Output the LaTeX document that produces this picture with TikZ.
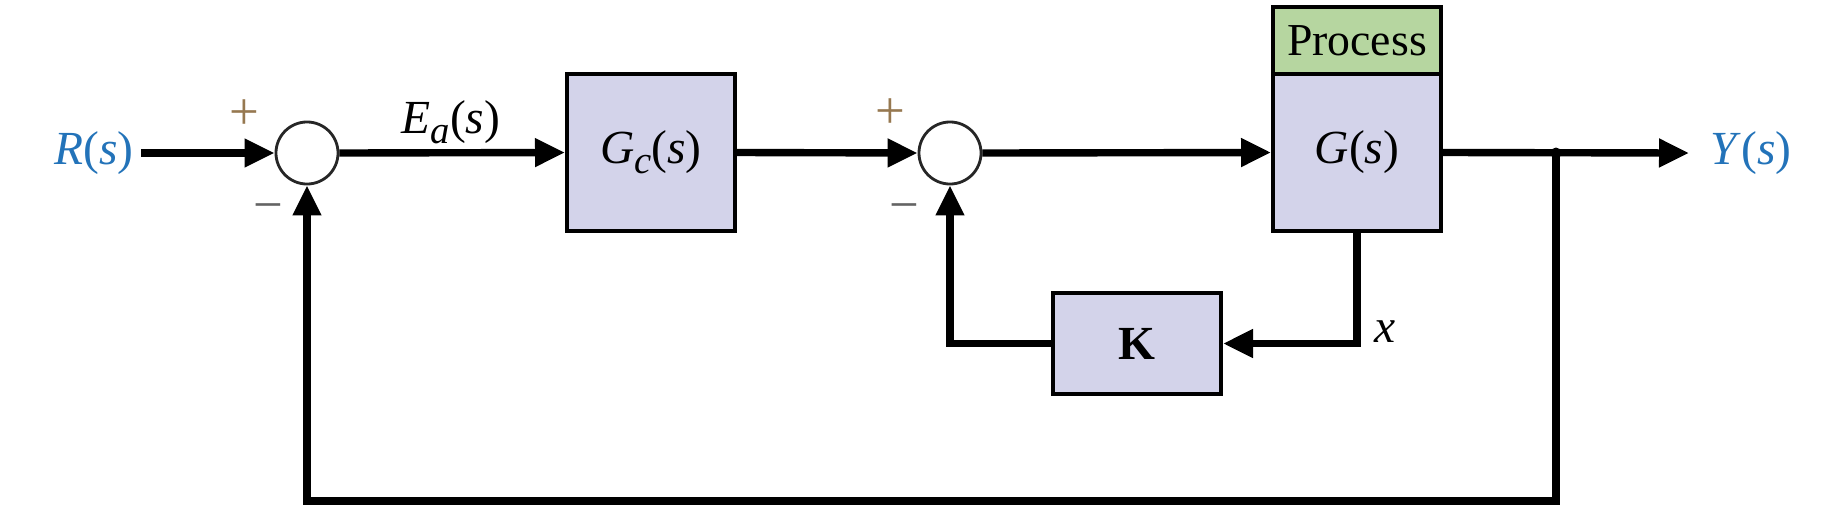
\documentclass[tikz,border=0pt]{standalone}
\usepackage{fontspec}
\setmainfont{Liberation Serif}
\usetikzlibrary{arrows.meta}
\definecolor{boxfill}{RGB}{211,211,234}
\definecolor{procfill}{RGB}{182,214,160}
\definecolor{sigblue}{RGB}{35,115,185}
\definecolor{plusc}{RGB}{150,120,80}
\definecolor{minusc}{RGB}{100,100,100}
\newcommand{\mysub}[1]{\raisebox{-0.45ex}{\fontsize{11}{12}\selectfont\textit{#1}}}
\begin{document}
\begin{tikzpicture}[x=0.01cm,y=-0.01cm,
  font=\fontsize{13.5}{16}\selectfont,
  blk/.style={draw=black, line width=1.1pt, fill=boxfill, minimum width=1.68cm, inner sep=0pt},
  sumc/.style={circle, draw=black!85, line width=0.8pt, minimum size=0.62cm, inner sep=0pt, fill=white},
  sig/.style={line width=2.1pt, -{Triangle[length=0.3cm,width=0.27cm]}},
  sgn/.style={font=\fontsize{15}{17}\selectfont, inner sep=0pt}]
\useasboundingbox (0,0) rectangle (1837,530);
% nodes
\node[text=sigblue, inner sep=0.1cm] (R) at (94,153) {\textit{R}(\textit{s})};
\node[sumc] (s1) at (307,153) {};
\node[blk, minimum height=1.57cm] (Gc) at (651,152.5) {\textit{G}\mysub{c}(\textit{s})};
\node[sumc] (s2) at (950,153) {};
\node[blk, minimum height=1.57cm] (G) at (1357,152.5) {\textit{G}(\textit{s})};
\node[blk, fill=procfill, minimum height=0.67cm, font=\fontsize{13}{15}\selectfont] (P) at (1357,40.5) {Process};
\node[text=sigblue, inner sep=0.1cm] (Y) at (1751,153) {\textit{Y}(\textit{s})};
\node[blk, minimum height=1.01cm, font=\bfseries\fontsize{13.5}{16}\selectfont] (K) at (1137,343.5) {K};
\node (Ea) at (451,122) {\textit{E}\mysub{a}(\textit{s})};
\node (xl) at (1385,332) {\textit{x}};
\node[sgn, text=plusc] (p1) at (244,115) {+};
\node[sgn, text=minusc] (m1) at (268,213) {−};
\node[sgn, text=plusc] (p2) at (890,114) {+};
\node[sgn, text=minusc] (m2) at (904,213) {−};
\coordinate (rs) at (141,153);
\coordinate (ye) at (1689,153);
\coordinate (br) at (1556,153);
\coordinate (bR) at (1556,501);
\coordinate (xc) at (1357,343.5);
% connectors
\draw[sig] (rs) -- (s1.west);
\draw[sig] (s1.east) -- (Gc.west);
\draw[sig] (Gc.east) -- (s2.west);
\draw[sig] (s2.east) -- (G.west);
\draw[sig] (G.east) -- (ye);
\draw[sig] (br) -- (bR) -| (s1.south);
\draw[sig] (G.south) -- (xc) -- (K.east);
\draw[sig] (K.west) -| (s2.south);
\fill (br) circle (0.055cm);
\end{tikzpicture}
\end{document}
